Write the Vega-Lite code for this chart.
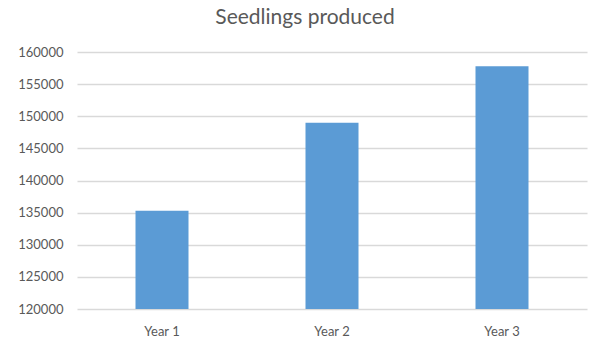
{
  "$schema": "https://vega.github.io/schema/vega-lite/v6.json",
  "width": 510,
  "height": 257,
  "autosize": "none",
  "padding": {"left": 77, "top": 52, "right": 2, "bottom": 28},
  "background": "white",
  "title": {
    "text": "Seedlings produced",
    "font": "Lato",
    "fontSize": 21,
    "fontWeight": "normal",
    "color": "#595959",
    "anchor": "middle",
    "dx": -27,
    "offset": 18
  },
  "data": {
    "values": [
      {"year": "Year 1", "seedlings": 135300},
      {"year": "Year 2", "seedlings": 149000},
      {"year": "Year 3", "seedlings": 157800}
    ]
  },
  "mark": {"type": "bar", "color": "#5b9bd5", "size": 53, "clip": true},
  "encoding": {
    "x": {
      "field": "year",
      "type": "nominal",
      "scale": {"paddingInner": 0, "paddingOuter": 0},
      "axis": {
        "title": null,
        "labelAngle": 0,
        "domain": false,
        "ticks": false,
        "labelPadding": 16,
        "labelFont": "Lato",
        "labelFontSize": 13,
        "labelColor": "#595959"
      }
    },
    "y": {
      "field": "seedlings",
      "type": "quantitative",
      "scale": {"domain": [120000, 160000], "zero": false, "nice": false},
      "axis": {
        "title": null,
        "values": [120000, 125000, 130000, 135000, 140000, 145000, 150000, 155000, 160000],
        "format": "d",
        "domain": false,
        "ticks": false,
        "labelPadding": 14,
        "labelFont": "Lato",
        "labelFontSize": 13,
        "labelColor": "#595959",
        "gridColor": "#d9d9d9",
        "gridWidth": 1.3
      }
    },
    "y2": {"datum": 120000}
  },
  "config": {"view": {"stroke": null}}
}
